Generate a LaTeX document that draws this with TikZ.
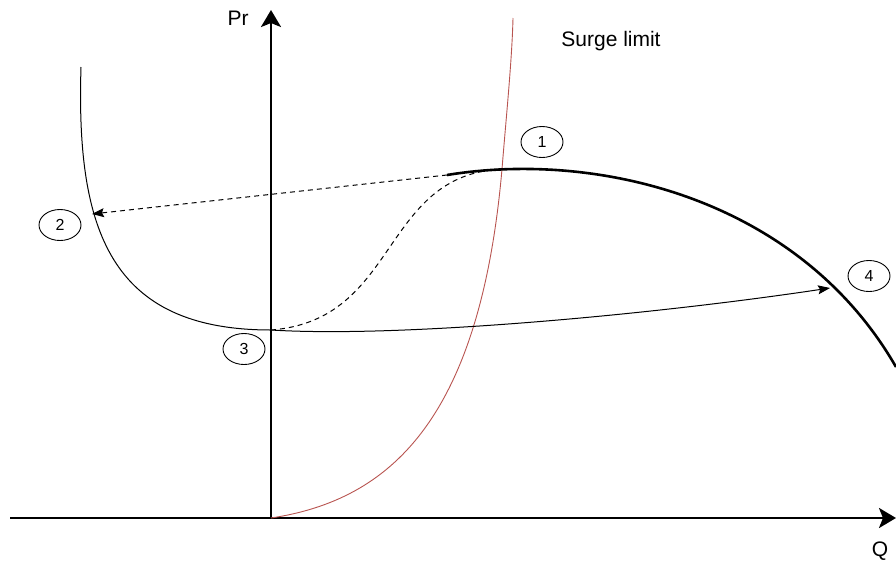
\documentclass[tikz,border=0pt]{standalone}
\usepackage{fontspec}
\setmainfont{Liberation Sans}
\usetikzlibrary{arrows.meta, positioning, shapes.geometric}
\definecolor{surgered}{RGB}{184,84,80}

\begin{document}
\begin{tikzpicture}[
    x=1pt, y=-1pt,
    >={Stealth[length=12pt, width=9pt, inset=2pt]},
    axis/.style={line width=2.6pt, -{Stealth[length=17pt, width=20pt, inset=4pt]}},
    stage/.style={draw, ellipse, minimum width=42pt, minimum height=31pt, inner sep=0pt, line width=0.9pt, font=\fontsize{16}{18}\selectfont},
    lbl/.style={font=\fontsize{21}{24}\selectfont},
    thin/.style={line width=1pt},
    dashline/.style={thin, dash pattern=on 5pt off 4pt},
]
    \useasboundingbox (0,0) rectangle (896,560);

    % axes
    \coordinate (origin) at (271,518);
    \coordinate (ytop) at (271,10);
    \coordinate (xleft) at (10,518);
    \coordinate (xright) at (896,518);
    \draw[axis] (origin) -- (ytop);
    \draw[axis] (xleft) -- (xright);
    \node[lbl] (pr) at (238,18) {Pr};
    \node[lbl] (q) at (880,551) {Q};

    % operating points
    \coordinate (p1) at (502,169);
    \coordinate (p2) at (92,214);
    \coordinate (p3) at (271,330);
    \coordinate (p4) at (830,288);
    \coordinate (dstart) at (447,175);
    \coordinate (ctop) at (81,67);
    \coordinate (cend) at (896,367);
    \coordinate (stop) at (513,18);

    % surge limit
    \draw[surgered, line width=0.9pt] (origin) .. controls (390,500) and (480,420) .. (p1)
        .. controls (506,119) and (512,60) .. (stop);
    \node[lbl] (surge) at (611,41) {Surge limit};

    % compressor characteristic
    \draw[line width=2.6pt] (dstart) .. controls (600,150) and (800,200) .. (cend);

    % surge cycle
    \draw[->, dashline] (dstart) -- (p2);
    \draw[thin] (ctop) .. controls (76,230) and (110,330) .. (p3);
    \draw[->, thin] (p3) .. controls (400,338) and (650,315) .. (p4);
    \draw[dashline] (p3) .. controls (400,320) and (380,175) .. (p1);

    \node[stage] (n1) at (542,142) {1};
    \node[stage] (n2) at (60,225) {2};
    \node[stage] (n3) at (244,349) {3};
    \node[stage] (n4) at (869,276) {4};
\end{tikzpicture}
\end{document}
